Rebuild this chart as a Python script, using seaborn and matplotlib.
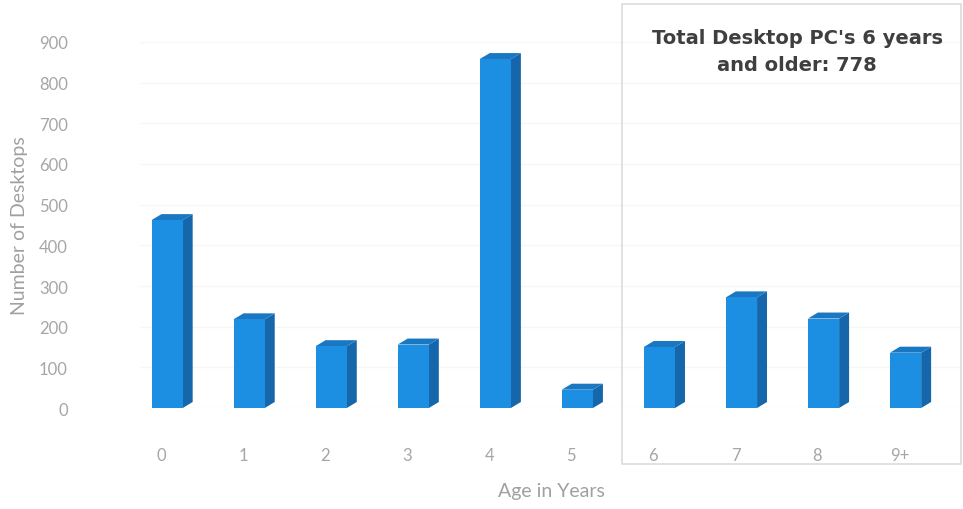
import matplotlib
matplotlib.use("Agg")
import matplotlib.pyplot as plt
import matplotlib.transforms as mtransforms
from matplotlib.patches import Polygon, Rectangle
import seaborn as sns
import pandas as pd

ages = ["0", "1", "2", "3", "4", "5", "6", "7", "8", "9+"]
counts = [462, 218, 152, 156, 858, 45, 150, 272, 220, 136]
y_ticks = [0, 100, 200, 300, 400, 500, 600, 700, 800, 900]
box_text = "Total Desktop PC's 6 years\nand older: 778"

df = pd.DataFrame({"age": ages, "count": counts})

sns.set_theme(style="white")
plt.rcParams["font.family"] = ["Lato", "DejaVu Sans"]

fig = plt.figure(figsize=(9.63, 5.10), dpi=100)
ax = fig.add_axes([140 / 963, 1 - 409 / 510, 823 / 963, 366 / 510])

front = "#1C8FE2"
side = "#1566AA"
top = "#1A78C2"

sns.barplot(data=df, x="age", y="count", color=front, width=0.38,
            saturation=1, ax=ax, zorder=3)

# pseudo-3D side and top faces derived from each bar patch
dx_px, dy_px = 10, 6
for p in ax.patches:
    x0, y0 = p.get_x(), p.get_y()
    w, h = p.get_width(), p.get_height()
    p.set_edgecolor("none")
    to_disp = ax.transData
    (xl, yb) = to_disp.transform((x0, y0))
    (xr, yt) = to_disp.transform((x0 + w, y0 + h))
    inv = ax.transData.inverted()
    pts_side = [(xr, yb), (xr + dx_px, yb + dy_px), (xr + dx_px, yt + dy_px), (xr, yt)]
    pts_top = [(xl, yt), (xl + dx_px, yt + dy_px), (xr + dx_px, yt + dy_px), (xr, yt)]
    ax.add_patch(Polygon(inv.transform(pts_side), closed=True, facecolor=side,
                         edgecolor="none", zorder=2))
    ax.add_patch(Polygon(inv.transform(pts_top), closed=True, facecolor=top,
                         edgecolor="none", zorder=2))

ax.set_xlim(-23 / 82 - 0.05, 9.7)
ax.set_ylim(0, 900)
ax.set_yticks(y_ticks)
ax.set_yticklabels([str(v) for v in y_ticks])
ax.yaxis.grid(True, color="#f6f6f6", linewidth=1, zorder=0)
for s in ax.spines.values():
    s.set_visible(False)
ax.tick_params(axis="both", length=0, colors="#a6a6a6", labelsize=12)
ax.tick_params(axis="x", pad=28)
ax.tick_params(axis="y", pad=52)
offset = mtransforms.ScaledTranslation(-6 / 100, 0, fig.dpi_scale_trans)
for lbl in ax.get_xticklabels():
    lbl.set_transform(lbl.get_transform() + offset)

ax.set_xlabel("Age in Years", fontsize=14, color="#a0a0a0", labelpad=14)
ax.set_ylabel("Number of Desktops", fontsize=14, color="#a0a0a0", labelpad=8)

fig.patches.append(Rectangle((622 / 963, 45 / 510), 1 - 622 / 963 - 0.002, 460 / 510,
                             transform=fig.transFigure, fill=False,
                             edgecolor="#dcdcdc", linewidth=1.2, zorder=5))
fig.text(797 / 963, 1 - 52 / 510, box_text, ha="center", va="center",
         fontsize=14, fontweight="bold", color="#3f3f3f", linespacing=1.5,
         family=["DejaVu Sans"])

fig.savefig("out.png", dpi=100)
